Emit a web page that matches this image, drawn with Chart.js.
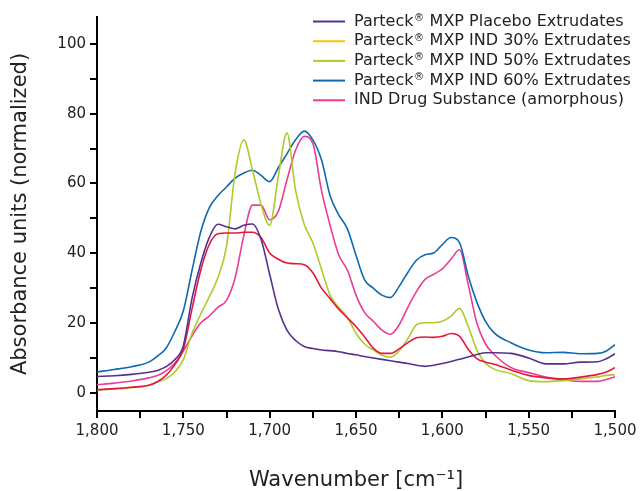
<!DOCTYPE html>
<html>
<head>
<meta charset="utf-8">
<script src="https://cdn.jsdelivr.net/npm/chart.js@4"></script>
<style>
  html, body { margin: 0; padding: 0; background: #fff; }
  #wrap { width: 641px; height: 491px; }
</style>
</head>
<body>
<div id="wrap"><canvas id="spectraChart" width="641" height="491"></canvas></div>
<script>
// ====== Spectra Data ======
const wavenumbers = [1800, 1790, 1780, 1770, 1765, 1760, 1755, 1750, 1745, 1740, 1735, 1730, 1725, 1720, 1715, 1710, 1705, 1700, 1695, 1690, 1685, 1680, 1675, 1670, 1665, 1660, 1655, 1650, 1645, 1640, 1635, 1630, 1625, 1620, 1615, 1610, 1605, 1600, 1595, 1590, 1585, 1580, 1575, 1570, 1560, 1550, 1540, 1530, 1520, 1510, 1505, 1500];

const placebo = [4.7, 4.9, 5.3, 5.9, 6.4, 7.5, 9.5, 13.5, 27, 37, 44.5, 48.3, 47.6, 47, 48, 48.4, 44, 34, 24, 18, 15, 13.3, 12.7, 12.3, 12.1, 11.8, 11.3, 10.9, 10.4, 10, 9.6, 9.2, 8.8, 8.4, 7.9, 7.6, 7.9, 8.4, 9, 9.6, 10.3, 11, 11.5, 11.5, 11.3, 10, 8.3, 8.3, 8.8, 8.9, 9.8, 11.2];
const ind30 = [0.9, 1.2, 1.6, 2.2, 3.2, 5, 8, 12.5, 24, 35, 42.5, 45.6, 45.8, 45.8, 46, 46, 44.5, 40.1, 38.3, 37.2, 37, 36.7, 34.4, 30, 27, 24, 21.5, 19, 16, 12.8, 11.3, 11.3, 12.6, 14.4, 15.8, 16, 15.9, 16.2, 17, 16.2, 12.5, 9.8, 8.8, 8.2, 6.5, 5, 4.3, 4, 4.5, 5.3, 6, 7.2];
const ind50 = [0.8, 1.1, 1.5, 2.2, 3.2, 4, 6, 9.5, 17, 22.5, 27.5, 33, 42, 63, 72.5, 64, 54, 48, 62, 74.5, 58, 48.3, 43, 35.5, 28, 24.5, 21.7, 17, 14, 12.3, 10.8, 10.2, 12, 15.5, 19.5, 20.1, 20.1, 20.5, 22, 24.2, 19, 12.3, 8.5, 6.8, 5.5, 3.5, 3.2, 3.5, 4, 4.6, 5, 5.2];
const ind60 = [6, 6.7, 7.5, 8.8, 10.5, 12.8, 17.5, 23.5, 35, 46, 53, 56.5, 59, 61.5, 63, 63.8, 62.3, 60.5, 64.5, 68.5, 72.5, 75, 72.5, 66.8, 56.5, 51, 47, 39.4, 32.4, 30, 28, 27.3, 30.5, 34.5, 38, 39.6, 40.1, 42.5, 44.5, 43, 33.5, 26, 20.5, 17.2, 14.3, 12.3, 11.5, 11.6, 11.2, 11.3, 12, 13.8];
const indDrug = [2.3, 2.8, 3.4, 4.3, 5, 6.3, 8.5, 12, 16.3, 20, 22, 24.5, 26.5, 33, 45, 53.8, 53.8, 49.6, 52, 61, 69.5, 73.5, 71.5, 58, 48, 39.5, 35.2, 28, 23, 20.5, 18, 16.8, 19.5, 24.5, 29, 32.5, 34, 35.5, 38.3, 41, 31, 20, 14, 11, 7.2, 5.8, 4.5, 3.7, 3.3, 3.3, 3.8, 4.6];

const seriesLabels = [
  'Parteck® MXP Placebo Extrudates',
  'Parteck® MXP IND 30% Extrudates',
  'Parteck® MXP IND 50% Extrudates',
  'Parteck® MXP IND 60% Extrudates',
  'IND Drug Substance (amorphous)'
];
const lineColors = ['#55318f', '#e5173f', '#aecb2a', '#0f69af', '#eb3c96'];
const legendColors = ['#55318f', '#f7c600', '#aecb2a', '#0f69af', '#eb3c96'];

const yTicksLabelled = [0, 20, 40, 60, 80, 100];

function toPoints(values) {
  return wavenumbers.map((w, i) => ({ x: w, y: values[i] }));
}

// ====== Legend drawn inside the plot, top right ======
const insideLegend = {
  id: 'insideLegend',
  afterDraw(chart) {
    const c = chart.ctx;
    c.save();
    c.textBaseline = 'middle';
    chart.data.datasets.forEach((ds, i) => {
      const y = 21.5 + i * 19.7;
      c.strokeStyle = ds.legendColor;
      c.lineWidth = 2;
      c.beginPath();
      c.moveTo(313, y);
      c.lineTo(345, y);
      c.stroke();

      c.fillStyle = '#222';
      let x = 354;
      const parts = ds.label.split('®');
      c.font = '16px "DejaVu Sans"';
      c.fillText(parts[0], x, y);
      x += c.measureText(parts[0]).width;
      if (parts.length > 1) {
        c.font = '10px "DejaVu Sans"';
        c.fillText('®', x + 0.5, y - 3);
        x += c.measureText('®').width + 1;
        c.font = '16px "DejaVu Sans"';
        c.fillText(parts[1], x, y);
      }
    });
    c.restore();
  }
};

const series = [placebo, ind30, ind50, ind60, indDrug];

const ctx = document.getElementById('spectraChart').getContext('2d');
const spectraChart = new Chart(ctx, {
  type: 'line',
  data: {
    datasets: series.map((values, i) => ({
      label: seriesLabels[i],
      data: toPoints(values),
      borderColor: lineColors[i],
      legendColor: legendColors[i],
      borderWidth: 1.6,
      pointRadius: 0,
      cubicInterpolationMode: 'monotone',
      fill: false
    }))
  },
  options: {
    responsive: false,
    animation: false,
    layout: { padding: { top: 17, right: 26, left: 0, bottom: 0 } },
    plugins: {
      legend: { display: false },
      tooltip: { enabled: false }
    },
    scales: {
      x: {
        type: 'linear',
        reverse: true,
        min: 1500,
        max: 1800,
        afterFit: (scale) => { scale.height = 80; },
        border: { color: '#000', width: 2 },
        grid: { drawOnChartArea: false, drawTicks: true, tickLength: 7, color: '#000', lineWidth: 2 },
        ticks: {
          stepSize: 25,
          autoSkip: false,
          maxRotation: 0,
          padding: 4,
          color: '#222',
          font: { family: 'DejaVu Sans', size: 15 },
          callback: (v) => (v % 50 === 0 ? v.toLocaleString('en-US') : '')
        },
        title: {
          display: true,
          text: 'Wavenumber [cm⁻¹]',
          color: '#222',
          font: { family: 'DejaVu Sans', size: 21 },
          padding: { top: 0, bottom: -2 }
        }
      },
      y: {
        min: -5.2,
        max: 107.7,
        afterFit: (scale) => { scale.width = 97; },
        border: { color: '#000', width: 2 },
        grid: { drawOnChartArea: false, drawTicks: true, tickLength: 7, color: '#000', lineWidth: 2 },
        ticks: {
          stepSize: 10,
          includeBounds: false,
          autoSkip: false,
          padding: 4,
          color: '#222',
          font: { family: 'DejaVu Sans', size: 15 },
          callback: (v) => (yTicksLabelled.includes(v) ? v : '')
        },
        title: {
          display: true,
          text: 'Absorbance units (normalized)',
          color: '#222',
          font: { family: 'DejaVu Sans', size: 21 },
          padding: { top: 8, bottom: 0 }
        }
      }
    }
  },
  plugins: [insideLegend]
});
</script>
</body>
</html>
